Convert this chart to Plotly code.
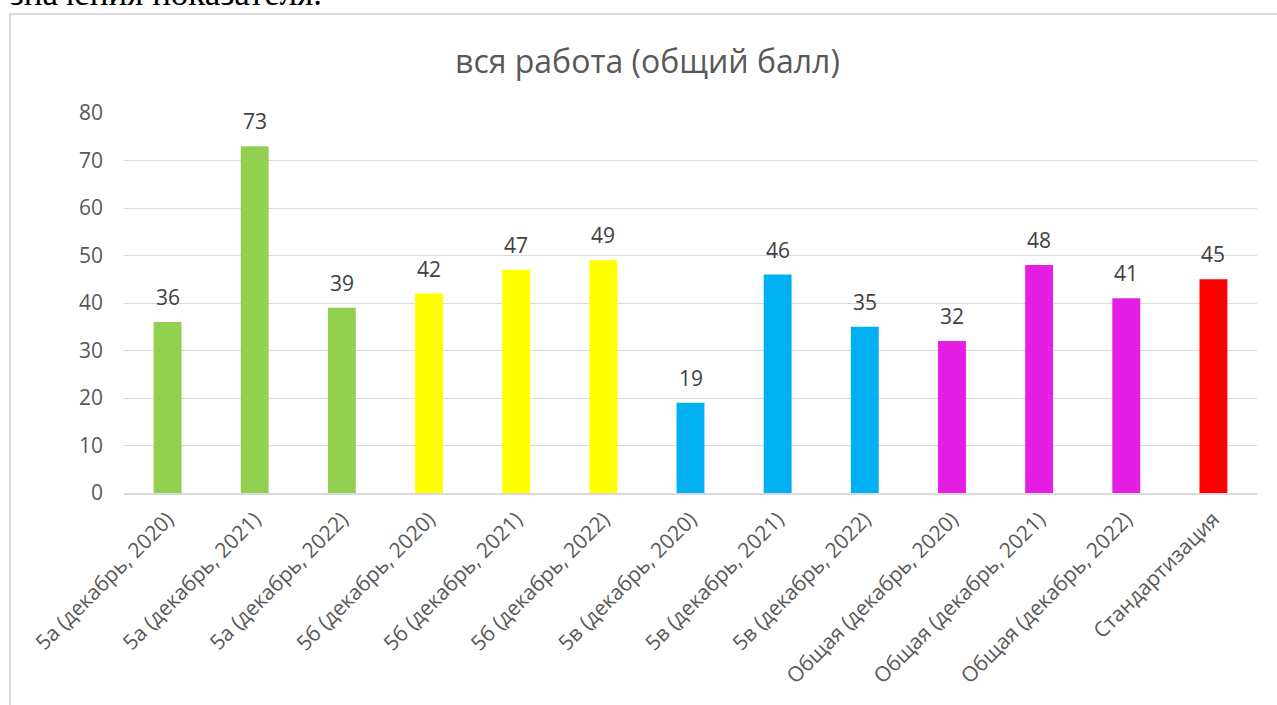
import plotly.graph_objects as go

categories = [
    "5а (декабрь, 2020)", "5а (декабрь, 2021)", "5а (декабрь, 2022)",
    "5б (декабрь, 2020)", "5б (декабрь, 2021)", "5б (декабрь, 2022)",
    "5в (декабрь, 2020)", "5в (декабрь, 2021)", "5в (декабрь, 2022)",
    "Общая (декабрь, 2020)", "Общая (декабрь, 2021)", "Общая (декабрь, 2022)",
    "Стандартизация",
]
values = [36, 73, 39, 42, 47, 49, 19, 46, 35, 32, 48, 41, 45]
colors = ["#92D050"] * 3 + ["#FFFF00"] * 3 + ["#00B0F0"] * 3 + ["#E61EE3"] * 3 + ["#FF0000"]
y_ticks = [0, 10, 20, 30, 40, 50, 60, 70, 80]

FONT = "Open Sans"
L, R, T, B = 124, 20, 113, 212
W, H = 1277, 705
PW, PH = W - L - R, H - T - B


def px_x(p):
    return (p - L) / PW


def px_y(p):
    return (H - B - p) / PH


fig = go.Figure(go.Bar(
    x=categories, y=values, marker=dict(color=colors, line=dict(width=0)),
    hoverinfo="x+y",
))

for c, v in zip(categories, values):
    fig.add_annotation(x=c, y=v, text=str(v), showarrow=False, yanchor="bottom",
                       yshift=9, font=dict(family=FONT, size=21, color="#404040"))

# partial line of surrounding document text (cut at top in the reference)
fig.add_annotation(xref="paper", yref="paper", x=px_x(8), y=px_y(15),
                   xanchor="left", yanchor="bottom", showarrow=False,
                   text="значения показателя.",
                   font=dict(family="Liberation Serif", size=35, color="#000000"))

# chart frame
fig.add_shape(type="rect", xref="paper", yref="paper",
              x0=px_x(10), x1=px_x(1300), y0=px_y(760), y1=px_y(14),
              line=dict(color="#D9D9D9", width=2), fillcolor="rgba(0,0,0,0)", layer="below")

fig.update_layout(
    width=W, height=H,
    margin=dict(l=L, r=R, t=T, b=B),
    paper_bgcolor="white", plot_bgcolor="white",
    bargap=0.68,
    showlegend=False,
    title=dict(text="вся работа (общий балл)", x=0.507, xanchor="center",
               y=1 - 62 / H, yanchor="middle",
               font=dict(family=FONT, size=32, color="#595959")),
    font=dict(family=FONT, color="#595959"),
)
fig.update_yaxes(range=[0, 80], tickvals=y_ticks, showgrid=True, gridcolor="#D9D9D9",
                 gridwidth=1, zeroline=False, showline=False,
                 tickfont=dict(family=FONT, size=21, color="#595959"),
                 ticklabelstandoff=20)
fig.update_xaxes(tickangle=-45, showline=True, linecolor="#D9D9D9", linewidth=1.5,
                 tickfont=dict(family=FONT, size=21, color="#595959"),
                 ticks="", ticklabelstandoff=4)

fig.write_html("out.html", config={"displayModeBar": False},
               post_script="document.body.style.margin='0';")
